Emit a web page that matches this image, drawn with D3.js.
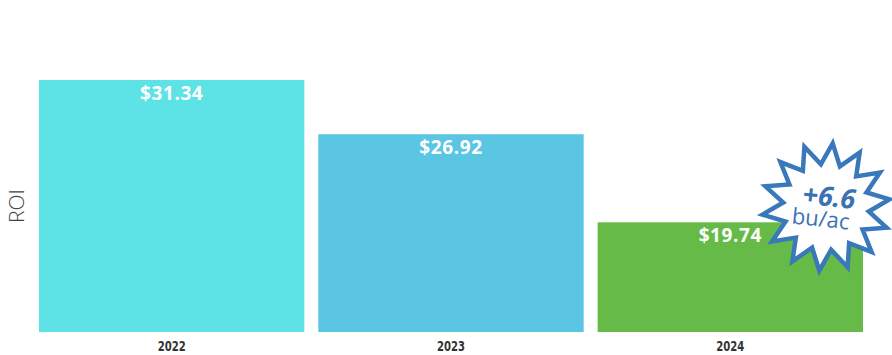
<!DOCTYPE html>
<html>
<head>
<meta charset="utf-8">
<script src="https://cdn.jsdelivr.net/npm/d3@7/dist/d3.min.js"></script>
<style>
  html, body { margin: 0; padding: 0; background: #ffffff; }
  svg { display: block; }
</style>
</head>
<body>
<svg id="chart" width="892" height="355"></svg>
<script>
// ROI by year
const years = ["2022", "2023", "2024"];
const roi = [31.34, 26.92, 19.74];
const barColors = ["#5de2e6", "#5ac6e4", "#66bb48"];
const valueLabels = ["$31.34", "$26.92", "$19.74"];
const badgeLines = ["+6.6", "bu/ac"];

const svg = d3.select("#chart");
const plot = { left: 39, right: 863, top: 80, bottom: 332 };

const x = d3.scaleBand()
  .domain(years)
  .range([plot.left, plot.right])
  .paddingInner(0.05)
  .paddingOuter(0);

// value axis does not start at zero
const y = d3.scaleLinear()
  .domain([10.8, 31.34])
  .range([plot.bottom, plot.top]);

const data = years.map((yr, i) => ({ year: yr, value: roi[i], color: barColors[i], label: valueLabels[i] }));

// bars
svg.append("g")
  .selectAll("rect")
  .data(data)
  .join("rect")
  .attr("x", d => x(d.year))
  .attr("y", d => y(d.value))
  .attr("width", x.bandwidth())
  .attr("height", d => y.range()[0] - y(d.value))
  .attr("fill", d => d.color);

// value labels inside bars
svg.append("g")
  .selectAll("text")
  .data(data)
  .join("text")
  .attr("x", d => x(d.year) + x.bandwidth() / 2)
  .attr("y", d => y(d.value) + 20)
  .attr("text-anchor", "middle")
  .attr("fill", "#ffffff")
  .attr("font-family", "'Open Sans', sans-serif")
  .attr("font-weight", 700)
  .attr("font-size", 19)
  .attr("letter-spacing", 0.6)
  .text(d => d.label);

// x axis (condensed year labels)
const xAxis = svg.append("g")
  .attr("transform", `translate(0,${plot.bottom})`)
  .call(d3.axisBottom(x).tickSize(0).tickPadding(8));
xAxis.select(".domain").remove();
xAxis.selectAll("text")
  .attr("fill", "#333333")
  .attr("font-family", "'DejaVu Sans', sans-serif")
  .attr("font-weight", 700)
  .attr("font-size", 14)
  .attr("dy", "0.76em")
  .attr("transform", "scale(0.72,1)");

// y axis title
svg.append("text")
  .attr("transform", "translate(24,206) rotate(-90)")
  .attr("text-anchor", "middle")
  .attr("fill", "#444444")
  .attr("font-family", "'Open Sans', sans-serif")
  .attr("font-weight", 300)
  .attr("font-size", 21)
  .text("ROI");

// starburst badge over the 2024 bar
const cx = 826, cy = 207;
const spikes = 14, rOuter = 64, rInner = 43;
const starPts = d3.range(spikes * 2).map(i => [
  (i * Math.PI) / spikes,
  i % 2 === 0 ? rOuter : rInner
]);
const badge = svg.append("g").attr("transform", `translate(${cx},${cy}) rotate(6)`);
badge.append("path")
  .attr("d", d3.lineRadial().curve(d3.curveLinearClosed)(starPts))
  .attr("fill", "#ffffff")
  .attr("stroke", "#3878bb")
  .attr("stroke-width", 4.5)
  .attr("stroke-linejoin", "miter");
badge.append("text")
  .attr("x", 2)
  .attr("y", -1)
  .attr("text-anchor", "middle")
  .attr("fill", "#3a72b4")
  .attr("font-family", "'Open Sans', sans-serif")
  .attr("font-weight", 700)
  .attr("font-style", "italic")
  .attr("font-size", 27)
  .text(badgeLines[0]);
badge.append("text")
  .attr("x", -4)
  .attr("y", 20)
  .attr("text-anchor", "middle")
  .attr("fill", "#3a72b4")
  .attr("font-family", "'Open Sans', sans-serif")
  .attr("font-weight", 400)
  .attr("font-size", 22)
  .text(badgeLines[1]);
</script>
</body>
</html>
